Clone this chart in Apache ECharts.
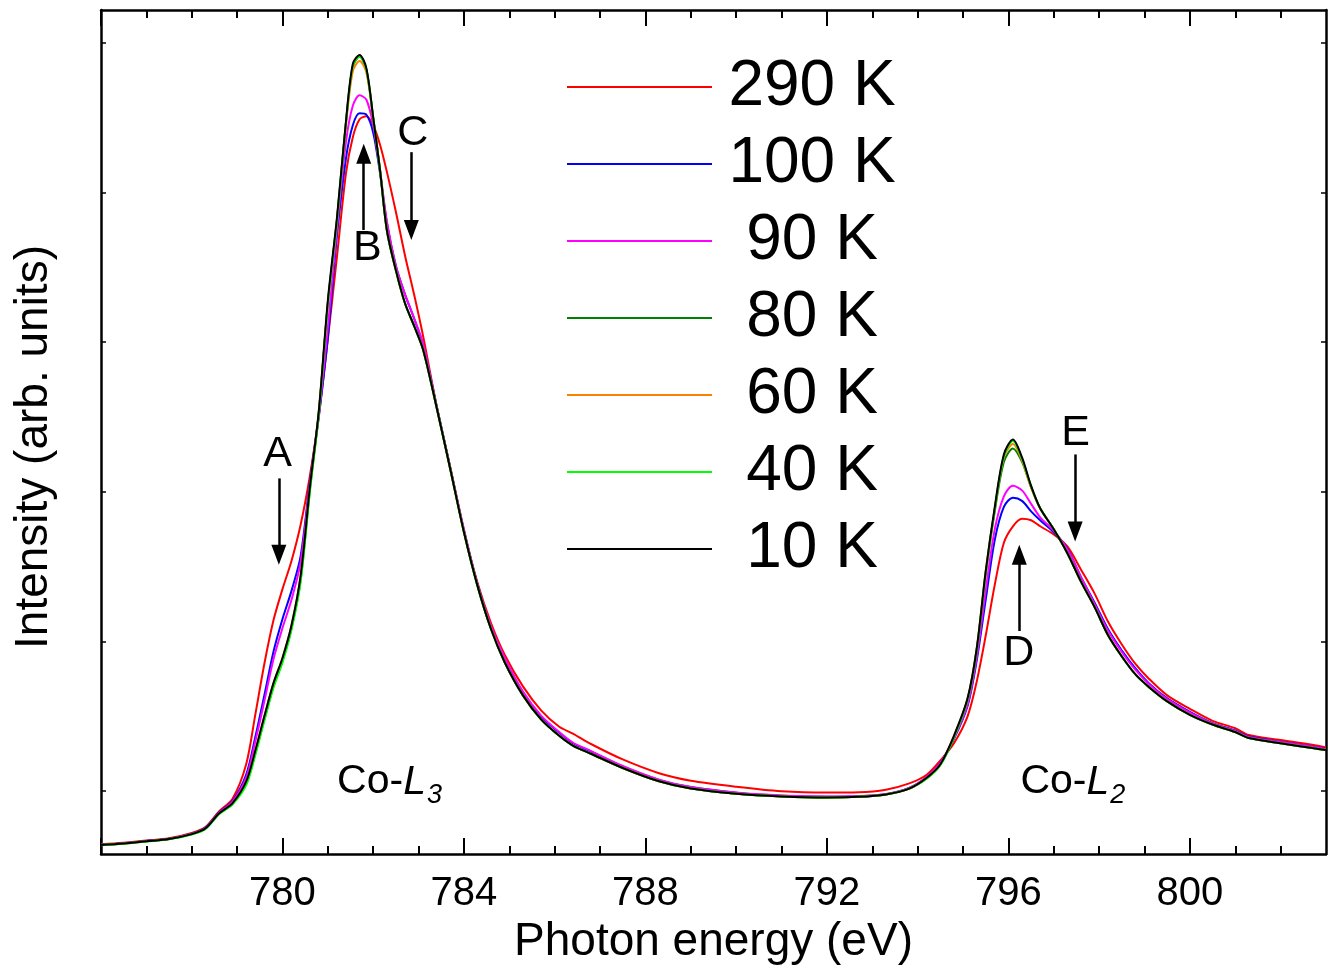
<!DOCTYPE html>
<html><head><meta charset="utf-8">
<script src="https://cdn.jsdelivr.net/npm/echarts@6/dist/echarts.min.js"></script>
<style>html,body{margin:0;padding:0;background:#fff}#c{width:1335px;height:970px}</style>
</head><body><div id="c"></div>
<script>
const energy = [776.0, 776.5, 777.0, 777.5, 778.0, 778.3, 778.6, 778.9, 779.2, 779.4,
  779.6, 779.8, 780.0, 780.2, 780.4, 780.6, 780.8, 781.0, 781.2, 781.4,
  781.55, 781.7, 781.85, 782.0, 782.15, 782.3, 782.5, 782.7, 782.9, 783.1,
  783.4, 783.7, 784.0, 784.3, 784.6, 784.9, 785.3, 785.7, 786.1, 786.4,
  786.8, 787.5, 788.3, 789.0, 790.0, 791.0, 792.0, 792.7, 793.3, 793.8,
  794.2, 794.5, 794.8, 795.1, 795.3, 795.5, 795.7, 795.9, 796.1, 796.3,
  796.5, 796.7, 797.0, 797.3, 797.6, 797.9, 798.2, 798.5, 798.8, 799.1,
  799.5, 800.0, 800.5, 801.0, 801.3, 802.0, 802.7, 803.0];

const k290 = [0.065, 0.075, 0.090, 0.105, 0.140, 0.180, 0.285, 0.370, 0.600, 0.930,
  1.270, 1.560, 1.770, 1.960, 2.200, 2.520, 2.930, 3.440, 3.990, 4.550,
  4.790, 4.910, 4.930, 4.870, 4.740, 4.560, 4.290, 4.000, 3.740, 3.460,
  2.990, 2.580, 2.160, 1.810, 1.540, 1.330, 1.120, 0.960, 0.850, 0.805,
  0.735, 0.632, 0.540, 0.490, 0.450, 0.420, 0.411, 0.413, 0.430, 0.470,
  0.530, 0.625, 0.740, 0.920, 1.150, 1.460, 1.800, 2.080, 2.190, 2.240,
  2.230, 2.190, 2.135, 2.055, 1.900, 1.740, 1.550, 1.400, 1.270, 1.170,
  1.060, 0.970, 0.890, 0.840, 0.795, 0.762, 0.730, 0.712];

const k100 = [0.062, 0.072, 0.087, 0.102, 0.136, 0.175, 0.278, 0.355, 0.530, 0.780,
  1.060, 1.350, 1.570, 1.760, 1.990, 2.480, 2.920, 3.450, 4.130, 4.650,
  4.870, 4.950, 4.940, 4.820, 4.550, 4.220, 3.930, 3.740, 3.580, 3.400,
  2.990, 2.580, 2.160, 1.800, 1.510, 1.300, 1.080, 0.920, 0.810, 0.740,
  0.685, 0.585, 0.495, 0.447, 0.410, 0.390, 0.383, 0.386, 0.400, 0.440,
  0.515, 0.610, 0.770, 0.990, 1.290, 1.700, 2.100, 2.320, 2.380, 2.360,
  2.290, 2.230, 2.150, 2.040, 1.850, 1.680, 1.500, 1.360, 1.240, 1.140,
  1.040, 0.950, 0.875, 0.825, 0.785, 0.750, 0.718, 0.702];

const k90 = [0.061, 0.071, 0.086, 0.101, 0.135, 0.172, 0.275, 0.350, 0.510, 0.750,
  1.020, 1.300, 1.510, 1.700, 1.950, 2.460, 2.930, 3.520, 4.180, 4.760,
  5.000, 5.070, 5.040, 4.870, 4.570, 4.230, 3.930, 3.740, 3.580, 3.410,
  2.990, 2.580, 2.170, 1.800, 1.520, 1.310, 1.085, 0.925, 0.815, 0.745,
  0.688, 0.588, 0.497, 0.448, 0.411, 0.391, 0.384, 0.387, 0.401, 0.440,
  0.515, 0.610, 0.775, 1.000, 1.310, 1.760, 2.170, 2.390, 2.460, 2.430,
  2.340, 2.250, 2.160, 2.035, 1.850, 1.670, 1.490, 1.350, 1.230, 1.135,
  1.035, 0.945, 0.872, 0.822, 0.782, 0.748, 0.716, 0.700];

const k80 = [0.060, 0.070, 0.085, 0.100, 0.133, 0.170, 0.268, 0.336, 0.470, 0.670,
  0.900, 1.120, 1.290, 1.510, 1.830, 2.420, 2.950, 3.680, 4.240, 4.890,
  5.260, 5.330, 5.240, 4.920, 4.570, 4.170, 3.900, 3.680, 3.530, 3.370,
  2.980, 2.570, 2.150, 1.790, 1.500, 1.280, 1.060, 0.900, 0.790, 0.725,
  0.670, 0.575, 0.486, 0.438, 0.403, 0.385, 0.378, 0.382, 0.398, 0.435,
  0.505, 0.595, 0.780, 1.030, 1.360, 1.870, 2.290, 2.620, 2.710, 2.620,
  2.450, 2.310, 2.170, 2.010, 1.820, 1.650, 1.460, 1.320, 1.200, 1.115,
  1.020, 0.930, 0.865, 0.815, 0.775, 0.740, 0.708, 0.695];

const k60 = [0.060, 0.070, 0.085, 0.100, 0.133, 0.170, 0.270, 0.340, 0.485, 0.690,
  0.920, 1.140, 1.310, 1.530, 1.860, 2.440, 2.950, 3.680, 4.230, 4.870,
  5.230, 5.300, 5.220, 4.910, 4.570, 4.170, 3.900, 3.680, 3.530, 3.370,
  2.980, 2.570, 2.150, 1.790, 1.500, 1.280, 1.060, 0.900, 0.790, 0.725,
  0.670, 0.575, 0.486, 0.438, 0.403, 0.385, 0.378, 0.382, 0.398, 0.435,
  0.510, 0.600, 0.790, 1.040, 1.370, 1.890, 2.310, 2.650, 2.740, 2.630,
  2.450, 2.310, 2.170, 2.010, 1.820, 1.650, 1.460, 1.320, 1.200, 1.115,
  1.020, 0.930, 0.865, 0.815, 0.775, 0.740, 0.708, 0.695];

const k40 = [0.058, 0.068, 0.083, 0.098, 0.130, 0.166, 0.265, 0.332, 0.460, 0.660,
  0.890, 1.110, 1.280, 1.500, 1.820, 2.410, 2.940, 3.670, 4.230, 4.890,
  5.270, 5.330, 5.240, 4.920, 4.570, 4.170, 3.900, 3.680, 3.530, 3.370,
  2.980, 2.570, 2.150, 1.790, 1.500, 1.280, 1.060, 0.900, 0.790, 0.725,
  0.670, 0.575, 0.486, 0.438, 0.403, 0.385, 0.378, 0.382, 0.398, 0.435,
  0.505, 0.595, 0.780, 1.030, 1.360, 1.880, 2.310, 2.660, 2.760, 2.640,
  2.460, 2.310, 2.170, 2.010, 1.820, 1.650, 1.460, 1.320, 1.200, 1.115,
  1.020, 0.930, 0.865, 0.815, 0.775, 0.740, 0.708, 0.695];

const k10 = [0.060, 0.070, 0.085, 0.100, 0.133, 0.170, 0.270, 0.340, 0.485, 0.690,
  0.920, 1.140, 1.310, 1.530, 1.860, 2.440, 2.960, 3.700, 4.250, 4.900,
  5.280, 5.340, 5.250, 4.920, 4.570, 4.170, 3.900, 3.680, 3.530, 3.370,
  2.980, 2.570, 2.150, 1.790, 1.500, 1.280, 1.060, 0.900, 0.790, 0.725,
  0.670, 0.575, 0.486, 0.438, 0.403, 0.385, 0.378, 0.382, 0.398, 0.435,
  0.510, 0.600, 0.790, 1.040, 1.370, 1.890, 2.320, 2.670, 2.770, 2.650,
  2.460, 2.310, 2.170, 2.010, 1.820, 1.650, 1.460, 1.320, 1.200, 1.115,
  1.020, 0.930, 0.865, 0.815, 0.775, 0.740, 0.708, 0.695];

const seriesNames = ['290 K', '100 K', '90 K', '80 K', '60 K', '40 K', '10 K'];
const seriesValues = [k290, k100, k90, k80, k60, k40, k10];
const seriesColors = ['#ff0000', '#0000ff', '#ff00ff', '#008000', '#ff8000', '#00ff00', '#000000'];

const xMajorTicks = [776, 780, 784, 788, 792, 796, 800];
const xTickLabels = [780, 784, 788, 792, 796, 800];
const xMinorTicks = [777, 778, 779, 781, 782, 783, 785, 786, 787, 789, 790, 791, 793, 794, 795, 797, 798, 799, 801, 802];
const yTicks = [0.42, 1.42, 2.42, 3.42, 4.42, 5.42];

const arrowLabels = ['A', 'B', 'C', 'D', 'E'];
const arrowTextPos = [[779.89, 2.67], [781.87, 4.05], [782.87, 4.82], [796.23, 1.34], [797.48, 2.81]];
const arrowFrom = [[779.92, 2.51], [781.79, 4.17], [782.84, 4.69], [796.24, 1.49], [797.47, 2.67]];
const arrowTo = [[779.92, 2.00], [781.79, 4.68], [782.84, 4.17], [796.24, 2.00], [797.47, 2.155]];

const edgeNames = ['3', '2'];
const edgePos = [[782.36, 0.48], [797.42, 0.48]];

const FONT = "'Liberation Sans', Arial, sans-serif";
const chart = echarts.init(document.getElementById('c'), null, {renderer: 'canvas'});

const axisLineStyle = {color: '#000', width: 2.5};
const tickStyle = {color: '#000', width: 2};

const xBase = {type: 'value', min: 776, max: 803, splitLine: {show: false}};

const series = seriesNames.map((n, si) => ({
  name: n,
  type: 'line',
  xAxisIndex: 0, yAxisIndex: 0,
  data: energy.map((e, i) => [e, seriesValues[si][i]]),
  showSymbol: false,
  smooth: 0.3,
  color: seriesColors[si],
  lineStyle: {color: seriesColors[si], width: 2},
  itemStyle: {color: seriesColors[si]},
  animation: false,
  silent: true
}));

series.push({
  name: 'annotations',
  type: 'line',
  data: [],
  xAxisIndex: 0, yAxisIndex: 0,
  animation: false,
  silent: true,
  markLine: {
    silent: true,
    animation: false,
    symbol: ['none', 'triangle'],
    symbolSize: [15, 20],
    lineStyle: {color: '#000', width: 2.5, type: 'solid'},
    itemStyle: {color: '#000'},
    label: {show: false},
    emphasis: {disabled: true},
    data: arrowFrom.map((f, i) => [{coord: f}, {coord: arrowTo[i]}])
  },
  markPoint: {
    silent: true,
    animation: false,
    symbol: 'circle',
    symbolSize: 0,
    itemStyle: {color: 'rgba(0,0,0,0)'},
    data: arrowLabels.map((t, i) => ({
      coord: arrowTextPos[i],
      label: {show: true, position: 'inside', formatter: t, fontSize: 43, color: '#000', fontFamily: FONT}
    })).concat(edgeNames.map((s, i) => ({
      coord: edgePos[i],
      label: {
        show: true, position: 'inside', color: '#000', fontFamily: FONT,
        formatter: '{n|Co-}{i|L}{s|' + s + '}',
        rich: {
          n: {fontSize: 41, lineHeight: 41, verticalAlign: 'top', color: '#000', fontFamily: FONT},
          i: {fontSize: 41, lineHeight: 41, verticalAlign: 'top', fontStyle: 'italic', color: '#000', fontFamily: FONT},
          s: {fontSize: 27, lineHeight: 27, padding: [27, 0, 0, 1], fontStyle: 'italic', color: '#000', fontFamily: FONT}
        }
      }
    })))
  }
});

chart.setOption({
  animation: false,
  backgroundColor: '#fff',
  textStyle: {fontFamily: FONT},
  grid: {left: 101, right: 9, top: 10, bottom: 114, containLabel: false},
  legend: {
    orient: 'vertical', left: 562, top: 50, itemGap: 13,
    itemWidth: 145, itemHeight: 2, icon: 'rect', selectedMode: false,
    data: seriesNames,
    formatter: '{a|{name}}',
    textStyle: {
      rich: {a: {width: 190, align: 'center', fontSize: 64, color: '#000', fontFamily: FONT}}
    }
  },
  xAxis: [
    Object.assign({}, xBase, {
      position: 'bottom', interval: 4,
      axisLine: {show: true, onZero: false, lineStyle: axisLineStyle},
      axisTick: {show: true, inside: true, length: 16, customValues: xMajorTicks, lineStyle: tickStyle},
      axisLabel: {show: true, customValues: xTickLabels, fontSize: 40, color: '#000', margin: 20, fontFamily: FONT},
      name: 'Photon energy (eV)', nameLocation: 'middle', nameGap: 65,
      nameTextStyle: {fontSize: 46, color: '#000', fontFamily: FONT}
    }),
    Object.assign({}, xBase, {
      position: 'bottom',
      axisLine: {show: false, onZero: false},
      axisTick: {show: true, inside: true, length: 8, customValues: xMinorTicks, lineStyle: tickStyle},
      axisLabel: {show: false}
    }),
    Object.assign({}, xBase, {
      position: 'top',
      axisLine: {show: true, onZero: false, lineStyle: axisLineStyle},
      axisTick: {show: true, inside: true, length: 16, customValues: xMajorTicks, lineStyle: tickStyle},
      axisLabel: {show: false}
    }),
    Object.assign({}, xBase, {
      position: 'top',
      axisLine: {show: false, onZero: false},
      axisTick: {show: true, inside: true, length: 8, customValues: xMinorTicks, lineStyle: tickStyle},
      axisLabel: {show: false}
    })
  ],
  yAxis: [
    {
      type: 'value', position: 'left', min: 0, max: 5.64,
      splitLine: {show: false},
      axisLine: {show: true, onZero: false, lineStyle: axisLineStyle},
      axisTick: {show: true, inside: true, length: 5, customValues: yTicks, lineStyle: {color: '#000', width: 1.5}},
      axisLabel: {show: false},
      name: 'Intensity (arb. units)', nameLocation: 'middle', nameGap: 44,
      nameTextStyle: {fontSize: 46, color: '#000', fontFamily: FONT, padding: [0, 30, 0, 0]}
    },
    {
      type: 'value', position: 'right', min: 0, max: 5.64,
      splitLine: {show: false},
      axisLine: {show: true, onZero: false, lineStyle: axisLineStyle},
      axisTick: {show: true, inside: true, length: 5, customValues: yTicks, lineStyle: {color: '#000', width: 1.5}},
      axisLabel: {show: false}
    }
  ],
  series: series
});
</script>
</body></html>
